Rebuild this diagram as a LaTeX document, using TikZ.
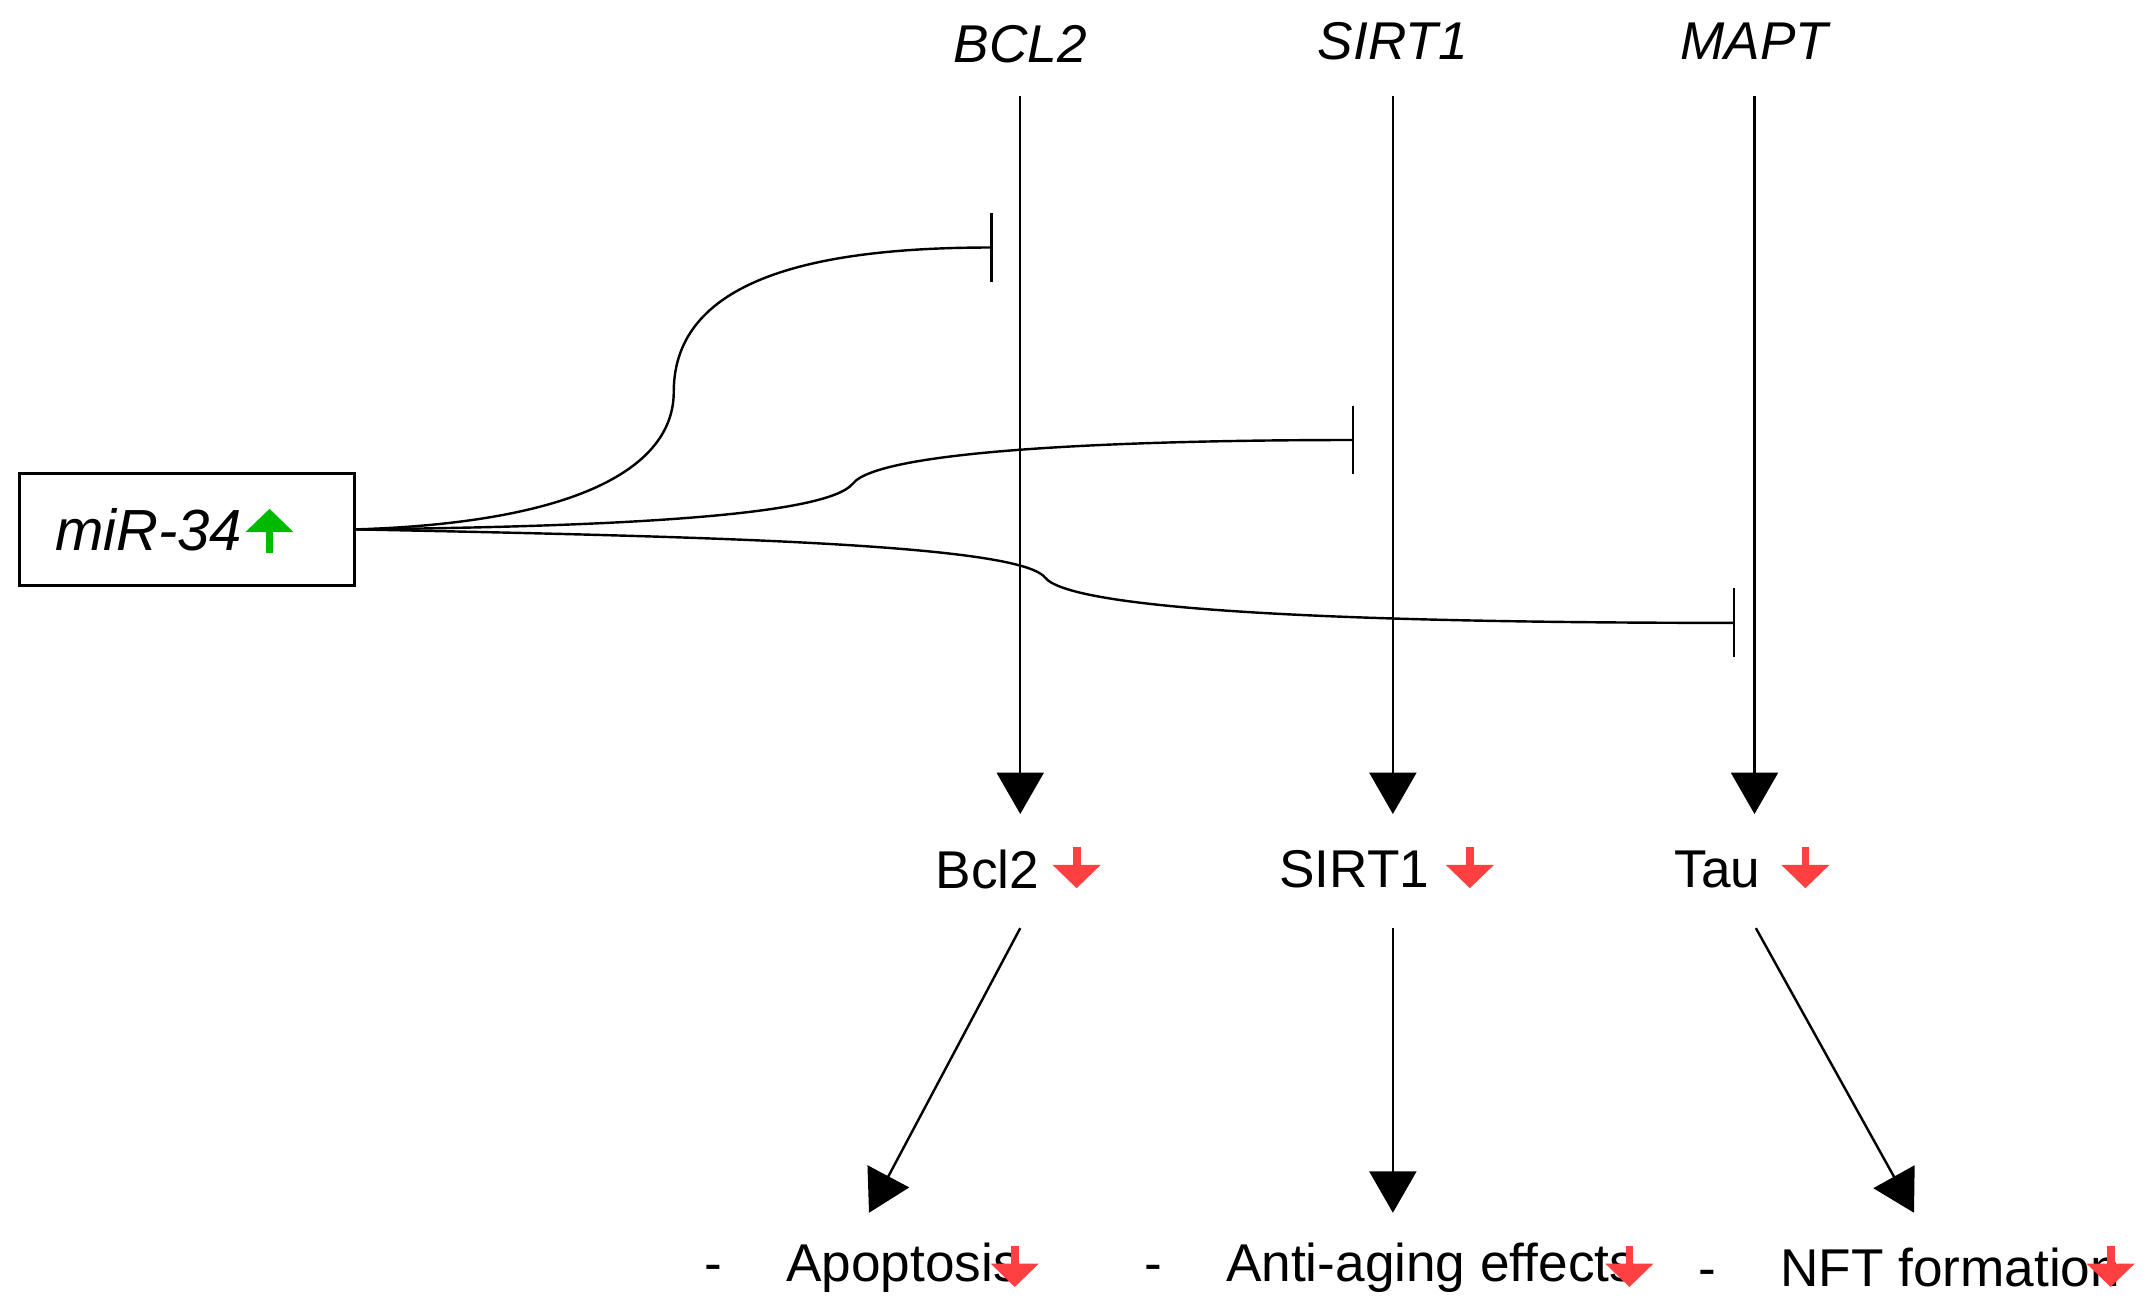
\documentclass[tikz,border=0pt]{standalone}
\usepackage{fontspec}
\setmainfont{Liberation Sans}
\usetikzlibrary{arrows.meta,positioning}
\tikzset{
  gene/.style={font=\fontsize{11}{13}\selectfont\itshape},
  prot/.style={font=\fontsize{11}{13}\selectfont},
  flow/.style={line width=0.5pt,-{Triangle[length=3mm,width=3.4mm]}},
  block/.style={line width=0.5pt,-{Bar[width=5mm]}},
  updown/.style={line width=1.6pt,-{Triangle[length=1.7mm,width=3.4mm]}}
}
\begin{document}
\begin{tikzpicture}[x=0.01cm,y=-0.01cm]
  \useasboundingbox (0,0) rectangle (1560,957);
  % miRNA box
  \node[draw,line width=0.6pt,minimum width=244\pgflinewidth*0+2.44cm,minimum height=0.81cm] (mir) at (136,385) {};
  \node[gene,font=\fontsize{12}{14}\selectfont\itshape] (mirtxt) at (108,385) {miR-34};
  \draw[updown,green!55!black!60!green] (196,402) -- (196,370);
  % genes
  \node[gene] (bcl2g) at (742,32) {BCL2};
  \node[gene] (sirtg) at (1013,30) {SIRT1};
  \node[gene] (maptg) at (1276,30) {MAPT};
  % proteins
  \node[prot] (bcl2) at (718,632) {Bcl2};
  \node[prot] (sirt) at (985,632) {SIRT1};
  \node[prot] (tau) at (1249,632) {Tau};
  \foreach \x in {783,1069,1313} {
    \draw[updown,red!75!white] (\x,616) -- (\x,646);
  }
  % effects
  \node[prot,anchor=west] (apo) at (500,922) {-\hspace{1.2em}Apoptosis};
  \node[prot,anchor=west] (aging) at (820,922) {-\hspace{1.2em}Anti-aging effects};
  \node[prot,anchor=west] (nft) at (1223,922) {-\hspace{1.2em}NFT formation};
  \foreach \x in {738,1185,1535} {
    \draw[updown,red!75!white] (\x,906) -- (\x,936);
  }
  % coordinates
  \coordinate (b1) at (742,70);  \coordinate (b2) at (742,592);
  \coordinate (s1) at (1013,70); \coordinate (s2) at (1013,592);
  \coordinate (m1) at (1276,70); \coordinate (m2) at (1276,592);
  \draw[flow] (b1) -- (b2);
  \draw[flow] (s1) -- (s2);
  \draw[flow] (m1) -- (m2);
  \coordinate (b3) at (742,675);  \coordinate (b4) at (632,882);
  \coordinate (s3) at (1013,675); \coordinate (s4) at (1013,882);
  \coordinate (m3) at (1277,675); \coordinate (m4) at (1392,882);
  \draw[flow] (b3) -- (b4);
  \draw[flow] (s3) -- (s4);
  \draw[flow] (m3) -- (m4);
  % inhibition
  \coordinate (ib) at (722,180);
  \coordinate (is) at (985,320);
  \coordinate (im) at (1262,453);
  \draw[block] (mir.east) .. controls (420,380) and (490,340) .. (490,285)
    .. controls (490,200) and (600,180) .. (ib);
  \draw[block] (mir.east) .. controls (450,383) and (600,375) .. (620,352)
    .. controls (640,325) and (850,320) .. (is);
  \draw[block] (mir.east) .. controls (500,390) and (740,395) .. (760,420)
    .. controls (780,445) and (1000,453) .. (im);
\end{tikzpicture}
\end{document}
